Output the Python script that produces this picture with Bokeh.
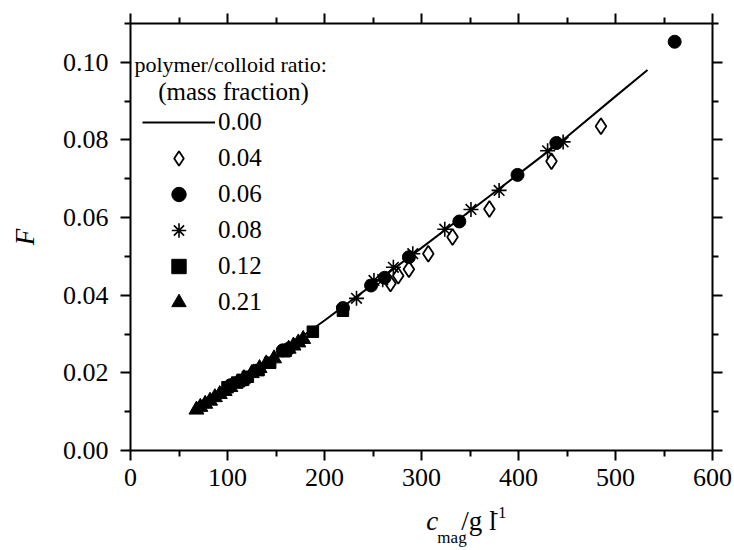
from bokeh.plotting import figure
from bokeh.layouts import column
from bokeh.models import (Range1d, LinearAxis, FixedTicker, PrintfTickFormatter,
                          CustomJSTickFormatter, Legend, LegendItem, Label)
from bokeh.core.properties import value
from bokeh.embed import file_html
from bokeh.resources import INLINE

# ---------------- data ----------------
# 0.00 : fitted curve
line_x = [68, 100, 150, 200, 250, 300, 350, 400, 450, 495, 533]
line_y = [0.0105, 0.0158, 0.0245, 0.0335, 0.0428, 0.0522, 0.0617, 0.0712, 0.0808, 0.0902, 0.0980]

# 0.04 : open diamonds
d04_x = [268, 276, 287, 307, 332, 370, 434, 485]
d04_y = [0.0430, 0.0450, 0.0467, 0.0507, 0.0550, 0.0622, 0.0745, 0.0835]

# 0.06 : filled circles
d06_x = [103, 118, 157, 163, 219, 248, 262, 287, 339, 399, 439, 561]
d06_y = [0.0168, 0.0183, 0.0258, 0.0262, 0.0367, 0.0425, 0.0445, 0.0498, 0.0590, 0.0710, 0.0792, 0.1053]

# 0.08 : asterisks
d08_x = [233, 251, 260, 271, 291, 324, 351, 380, 430, 446]
d08_y = [0.0392, 0.0438, 0.0440, 0.0472, 0.0507, 0.0570, 0.0621, 0.0670, 0.0772, 0.0795]

# 0.12 : filled squares
d12_x = [100, 110, 116, 121, 132, 144, 160, 188, 219]
d12_y = [0.0163, 0.0175, 0.0182, 0.0190, 0.0207, 0.0226, 0.0257, 0.0306, 0.0360]

# 0.21 : filled triangles
d21_x = [68, 72, 77, 82, 87, 92, 97, 103, 110, 117, 125, 133, 140, 148, 157, 163, 168, 173, 178]
d21_y = [0.0105, 0.0112, 0.0120, 0.0128, 0.0137, 0.0145, 0.0153, 0.0163, 0.0175, 0.0186,
         0.0199, 0.0212, 0.0224, 0.0237, 0.0252, 0.0262, 0.0270, 0.0278, 0.0287]

legend_labels = ["0.00", "0.04", "0.06", "0.08", "0.12", "0.21"]
legend_title = ["polymer/colloid ratio:", "(mass fraction)"]
x_ticks = [0, 100, 200, 300, 400, 500, 600]
x_minor = [50, 150, 250, 350, 450, 550]
y_ticks = [0.00, 0.02, 0.04, 0.06, 0.08, 0.10]
y_minor = [0.01, 0.03, 0.05, 0.07, 0.09, 0.11]

FONT = "Liberation Serif"

fig = figure(width=734, height=500, output_backend="svg", toolbar_location=None,
             x_range=Range1d(0, 600), y_range=Range1d(0, 0.11),
             min_border_left=130, min_border_right=22, min_border_top=23, min_border_bottom=50)
fig.xgrid.visible = False
fig.ygrid.visible = False
fig.outline_line_color = None
fig.background_fill_color = "white"
fig.border_fill_color = "white"


def style_axis(ax, show_labels=True, standoff=8):
    ax.axis_line_color = "black"
    ax.axis_line_width = 2
    ax.major_tick_line_color = "black"
    ax.major_tick_line_width = 2
    ax.minor_tick_line_color = "black"
    ax.minor_tick_line_width = 2
    ax.major_tick_out = 10
    ax.major_tick_in = 0
    ax.minor_tick_out = 6
    ax.minor_tick_in = 0
    ax.major_label_text_font = FONT
    ax.major_label_text_color = "black"
    if show_labels:
        ax.major_label_text_font_size = "26px"
        ax.major_label_standoff = standoff
    else:
        ax.formatter = CustomJSTickFormatter(code="return ''")
        ax.major_label_text_font_size = "1px"
        ax.major_label_standoff = 0


xa = fig.xaxis[0]
xa.ticker = FixedTicker(ticks=x_ticks, minor_ticks=x_minor)
style_axis(xa, True, 8)
ya = fig.yaxis[0]
ya.ticker = FixedTicker(ticks=y_ticks, minor_ticks=y_minor)
ya.formatter = PrintfTickFormatter(format="%.2f")
style_axis(ya, True, 12)
ya.axis_label = "F"
ya.axis_label_text_font = FONT
ya.axis_label_text_font_style = "italic"
ya.axis_label_text_font_size = "27px"
ya.axis_label_text_color = "black"
ya.axis_label_standoff = 20

top = LinearAxis(ticker=FixedTicker(ticks=x_ticks, minor_ticks=x_minor))
style_axis(top, False)
fig.add_layout(top, "above")
right = LinearAxis(ticker=FixedTicker(ticks=y_ticks, minor_ticks=y_minor))
style_axis(right, False)
fig.add_layout(right, "right")

# ---------------- glyphs ----------------
r00 = fig.line(line_x, line_y, line_color="black", line_width=2)
r04 = fig.scatter(d04_x, d04_y, marker="diamond", size=16,
                  fill_color="white", line_color="black", line_width=1.8)
r06 = fig.scatter(d06_x, d06_y, marker="circle", size=13, fill_color="black", line_color="black")
r08 = fig.scatter(d08_x, d08_y, marker="asterisk", size=15, line_color="black", line_width=1.6)
r12 = fig.scatter(d12_x, d12_y, marker="square", size=11.5, fill_color="black", line_color="black")
r21 = fig.scatter(d21_x, d21_y, marker="triangle", size=15, fill_color="black", line_color="black")

legend = Legend(items=[LegendItem(label=lab, renderers=[r])
                       for lab, r in zip(legend_labels, [r00, r04, r06, r08, r12, r21])],
                location=(12, 130), padding=0, margin=0, spacing=0,
                glyph_width=73, glyph_height=36, label_height=36, label_standoff=3,
                label_text_font=FONT, label_text_font_size="25px", label_text_color="black",
                border_line_color=None, background_fill_alpha=0)
fig.add_layout(legend)

fig.add_layout(Label(x=4.1, y=0.0995, text=legend_title[0], text_font=FONT, text_color="black",
                     text_font_size="22px", text_baseline="middle", text_align="left"))
fig.add_layout(Label(x=28.5, y=0.0925, text=legend_title[1], text_font=FONT, text_color="black",
                     text_font_size="25px", text_baseline="middle", text_align="left"))

# ---------------- x-axis title strip (canvas pixel coordinates) ----------------
strip = figure(width=734, height=50, output_backend="svg", toolbar_location=None,
               x_range=Range1d(0, 734), y_range=Range1d(550, 500), min_border=0,
               x_axis_location=None, y_axis_location=None)
strip.outline_line_color = None
strip.xgrid.visible = False
strip.ygrid.visible = False
strip.background_fill_color = "white"
strip.border_fill_color = "white"


def piece(x, y, txt, size, style="normal"):
    strip.text(x=[x], y=[y], text=[txt], text_font=value(FONT), text_font_size=value(size),
               text_font_style=value(style), text_baseline=value("alphabetic"),
               text_align=value("left"), text_color="black")


piece(373, 520, "c", "27px", "italic")
piece(387, 537, "mag", "17px")
piece(417, 520, "/g l", "27px")
piece(457, 512, "-1", "16px")

p = column(fig, strip, spacing=0)
open("out.html", "w").write(file_html(p, INLINE))
